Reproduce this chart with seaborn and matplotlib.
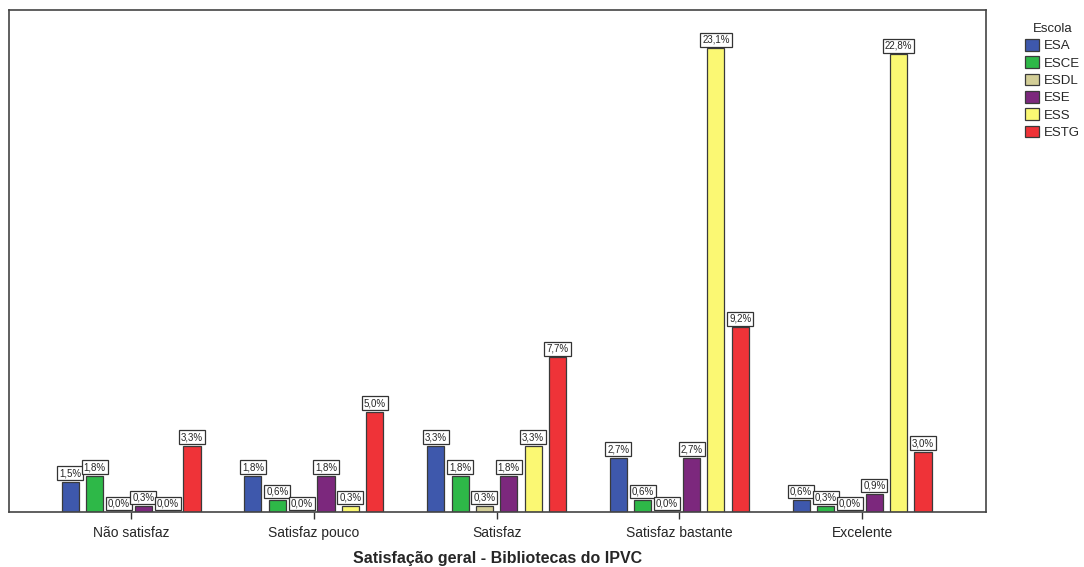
import pandas as pd
import matplotlib
matplotlib.use("Agg")
import matplotlib.pyplot as plt
import seaborn as sns

# Categories and series (percent values)
categorias = ["Não satisfaz", "Satisfaz pouco", "Satisfaz", "Satisfaz bastante", "Excelente"]
escolas = ["ESA", "ESCE", "ESDL", "ESE", "ESS", "ESTG"]
esa = [1.5, 1.8, 3.3, 2.7, 0.6]
esce = [1.8, 0.6, 1.8, 0.6, 0.3]
esdl = [0.0, 0.0, 0.3, 0.0, 0.0]
ese = [0.3, 1.8, 1.8, 2.7, 0.9]
ess = [0.0, 0.3, 3.3, 23.1, 22.8]
estg = [3.3, 5.0, 7.7, 9.2, 3.0]

cores = ["#3E58AC", "#2EB848", "#D3CE97", "#7C287D", "#FBF873", "#EF3338"]

series = [esa, esce, esdl, ese, ess, estg]
rows = []
for esc, vals in zip(escolas, series):
    for cat, v in zip(categorias, vals):
        rows.append({"Satisfação": cat, "Escola": esc, "Percentagem": v})
df = pd.DataFrame(rows)

sns.set_style("white")
plt.rcParams["font.family"] = ["Liberation Sans", "DejaVu Sans"]

fig = plt.figure(figsize=(10.84, 5.67), dpi=100)
ax = fig.add_axes([9 / 1084, 55 / 567, 977 / 1084, 502 / 567])

sns.barplot(data=df, x="Satisfação", y="Percentagem", hue="Escola",
            order=categorias, hue_order=escolas, palette=cores,
            gap=0.3, width=0.8, edgecolor="#3a3a3a", linewidth=0.9,
            saturation=1, ax=ax, errorbar=None)

# value labels in white boxes, Portuguese decimal comma
for cont in ax.containers:
    labels = [f"{v:.1f}%".replace(".", ",") for v in cont.datavalues]
    ax.bar_label(cont, labels=labels, padding=2.5, fontsize=7,
                 bbox=dict(boxstyle="square,pad=0.2", facecolor="white",
                           edgecolor="#333333", linewidth=0.9))

ax.set_ylim(0, 25)
ax.set_xlim(-0.668, 4.678)
ax.set_yticks([])
ax.set_ylabel("")
ax.set_xlabel("Satisfação geral - Bibliotecas do IPVC", fontsize=11.5,
              fontweight="bold", labelpad=8)
ax.tick_params(axis="x", direction="out", length=5, width=1, color="#333333",
               labelsize=10, pad=13, bottom=True)
for lbl in ax.get_xticklabels():
    lbl.set_verticalalignment("baseline")
for s in ax.spines.values():
    s.set_color("#444444")
    s.set_linewidth(1.2)

sns.move_legend(ax, "upper left", bbox_to_anchor=(1.035, 0.985),
                frameon=False, title="Escola", fontsize=9.5, title_fontsize=9.5,
                handlelength=1.0, handleheight=1.0, handletextpad=0.4,
                labelspacing=0.3, borderaxespad=0)

fig.savefig("out.png", dpi=100)
